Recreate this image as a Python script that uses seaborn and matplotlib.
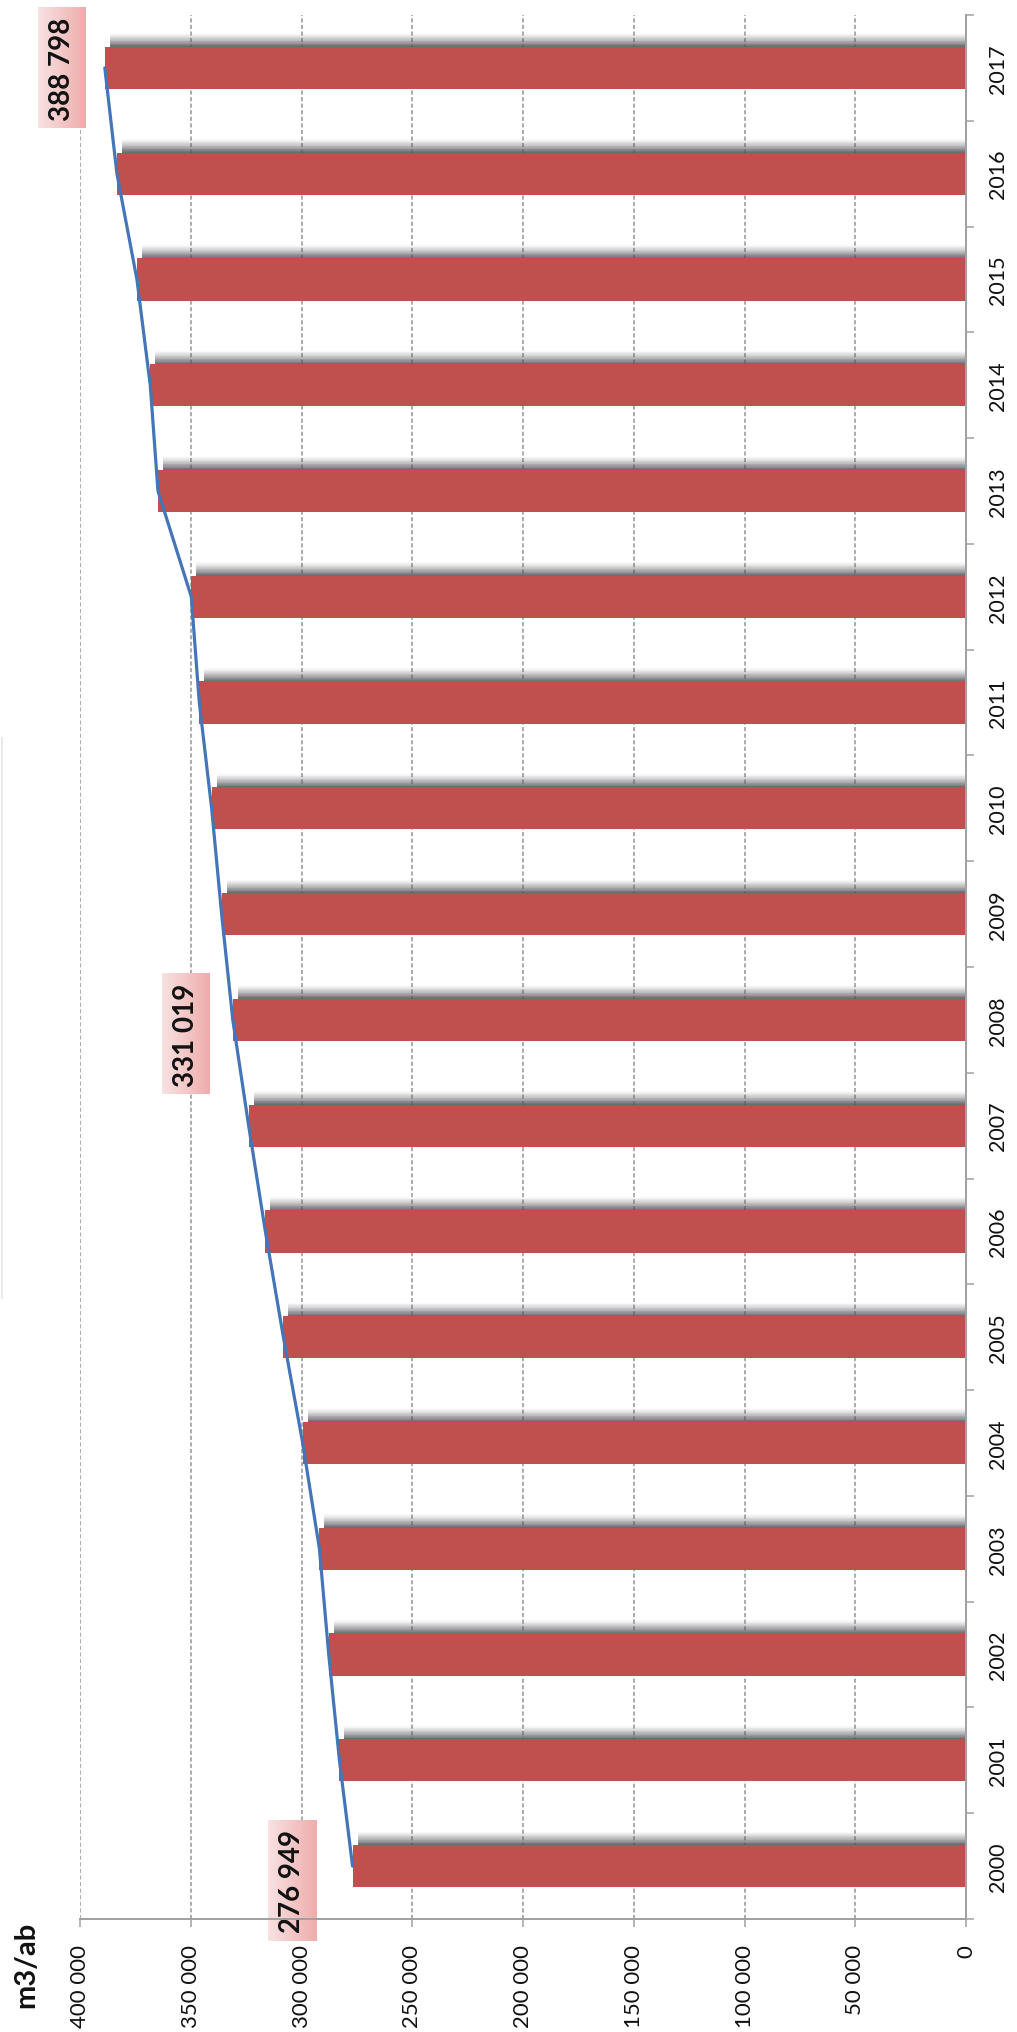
import numpy as np
import matplotlib
matplotlib.use("Agg")
import matplotlib.pyplot as plt
from matplotlib.patches import Rectangle
from matplotlib.ticker import FixedLocator, FuncFormatter
import seaborn as sns

# Yearly volume (m3/ab)
years = [str(y) for y in range(2000, 2018)]
volumes = [276949, 282870, 287700, 291910, 299460, 308180, 316310, 323860,
           331019, 336060, 340570, 346140, 349750, 364800, 368280, 374300,
           383330, 388798]
# Years whose value is written out on the chart
labelled_years = ["2000", "2008", "2017"]

# Value-axis ticks
value_ticks = list(range(0, 400001, 50000))
unit_label = "m3/ab"

BAR_RED = "#C0504D"
LINE_BLUE = "#4475B9"
AXIS_GREY = "#A0A0A0"
GRID_GREY = "#A8A8A8"

sns.set_theme(style="white")
plt.rcParams["font.family"] = ["Lato", "DejaVu Sans"]

W, H = 1017, 2033
fig = plt.figure(figsize=(W / 100, H / 100), dpi=100)
# Plot area in pixel terms: value axis runs right (0) to left (400 000)
ax_left, ax_right, ax_top, ax_bottom = 80, 966, 16, 1920
ax = fig.add_axes([ax_left / W, 1 - ax_bottom / H,
                   (ax_right - ax_left) / W, (ax_bottom - ax_top) / H])

positions = np.arange(len(years))
bar_h = 0.40

# Bars
sns.barplot(x=volumes, y=years, order=years, orient="h", color=BAR_RED,
            saturation=1, width=bar_h, ax=ax, zorder=3, edgecolor="none")

ax.set_xlim(400000, 0)
ax.set_ylim(-0.5, len(years) - 0.5)

units_per_px = 400000 / (ax_right - ax_left)
cats_per_px = len(years) / (ax_bottom - ax_top)

# Soft drop shadow along the upper edge of every bar
n_strips = 18
shadow_h = 14 * cats_per_px
for pos, v in zip(positions, volumes):
    top = pos + bar_h / 2
    x0 = v - 5 * units_per_px
    for k in range(n_strips):
        t = (k + 0.5) / n_strips
        a = 0.9 * (1 - t) ** 1.3
        ax.add_patch(Rectangle((0, top + k * shadow_h / n_strips),
                               x0, shadow_h / n_strips,
                               facecolor="#55555c", edgecolor="none",
                               alpha=a, zorder=2))

# Trend line through the bar ends
ax.plot(volumes, positions, color=LINE_BLUE, lw=2.3, zorder=4,
        solid_capstyle="round")

# Value labels in gradient boxes
label_shift = {"2000": (61, 14), "2008": (47, 14), "2017": (43, 0)}
box_w_px, box_h_px = 48, 121
grad = np.linspace(0, 1, 64)[None, :]
c0 = np.array([248, 226, 226]) / 255
c1 = np.array([239, 172, 172]) / 255
grad_img = c0[None, None, :] * (1 - grad[..., None]) + c1[None, None, :] * grad[..., None]
for yr in labelled_years:
    i = years.index(yr)
    v = volumes[i]
    dx, dy = label_shift[yr]
    cx = v + dx * units_per_px
    cy = positions[i] - dy * cats_per_px
    hw = box_w_px * units_per_px / 2
    hh = box_h_px * cats_per_px / 2
    # gradient goes light (left on page) to darker (right on page)
    ax.imshow(grad_img, extent=(cx + hw, cx - hw, cy - hh, cy + hh),
              aspect="auto", zorder=5, clip_on=False, interpolation="bilinear")
    txt = f"{v:,}".replace(",", " ")
    ax.text(cx, cy, txt, rotation=90, ha="center", va="center",
            fontsize=20, fontweight="bold", color="#111111", zorder=6,
            clip_on=False)

ax.set_xlim(400000, 0)
ax.set_ylim(-0.5, len(years) - 0.5)

# Value axis (bottom)
ax.xaxis.set_major_locator(FixedLocator(value_ticks))
ax.xaxis.set_major_formatter(FuncFormatter(lambda v, _: f"{int(v):,}".replace(",", " ")))
ax.tick_params(axis="x", which="major", bottom=True, length=5.8, width=1.1,
               color=AXIS_GREY, pad=12, labelsize=16, labelcolor="#111111",
               labelrotation=90)
ax.set_xlabel("")

# Category axis (right)
ax.yaxis.tick_right()
ax.set_yticks(positions)
ax.set_yticklabels(years)
ax.yaxis.set_minor_locator(FixedLocator(np.arange(-0.5, len(years), 1.0)))
ax.tick_params(axis="y", which="major", left=False, right=True, length=0,
               pad=15.5, labelsize=15.5, labelcolor="#111111", labelrotation=90)
ax.tick_params(axis="y", which="minor", left=False, right=True, length=5.8,
               width=1.1, color=AXIS_GREY)
for t in ax.get_yticklabels():
    t.set_verticalalignment("center")
ax.set_ylabel("")

for side in ("left", "top"):
    ax.spines[side].set_visible(False)
for side in ("right", "bottom"):
    ax.spines[side].set_color(AXIS_GREY)
    ax.spines[side].set_linewidth(1.4)
    ax.spines[side].set_zorder(7)

ax.set_axisbelow(True)
ax.xaxis.grid(True, color=GRID_GREY, linestyle=(0, (2.2, 1.3)), lw=1.35)
ax.yaxis.grid(False)

fig.text(26 / W, 1 - 1965 / H, unit_label, rotation=90, ha="center",
         va="center", fontsize=21, fontweight="bold", color="#111111")

# Faint edge of the legend frame at the left border
fig.add_artist(Rectangle((1 / W, 1 - 1300 / H), 1.5 / W, (1300 - 738) / H,
                         transform=fig.transFigure, facecolor="#EAEAEA",
                         edgecolor="none"))

fig.savefig("out.png", dpi=100, facecolor="white")
